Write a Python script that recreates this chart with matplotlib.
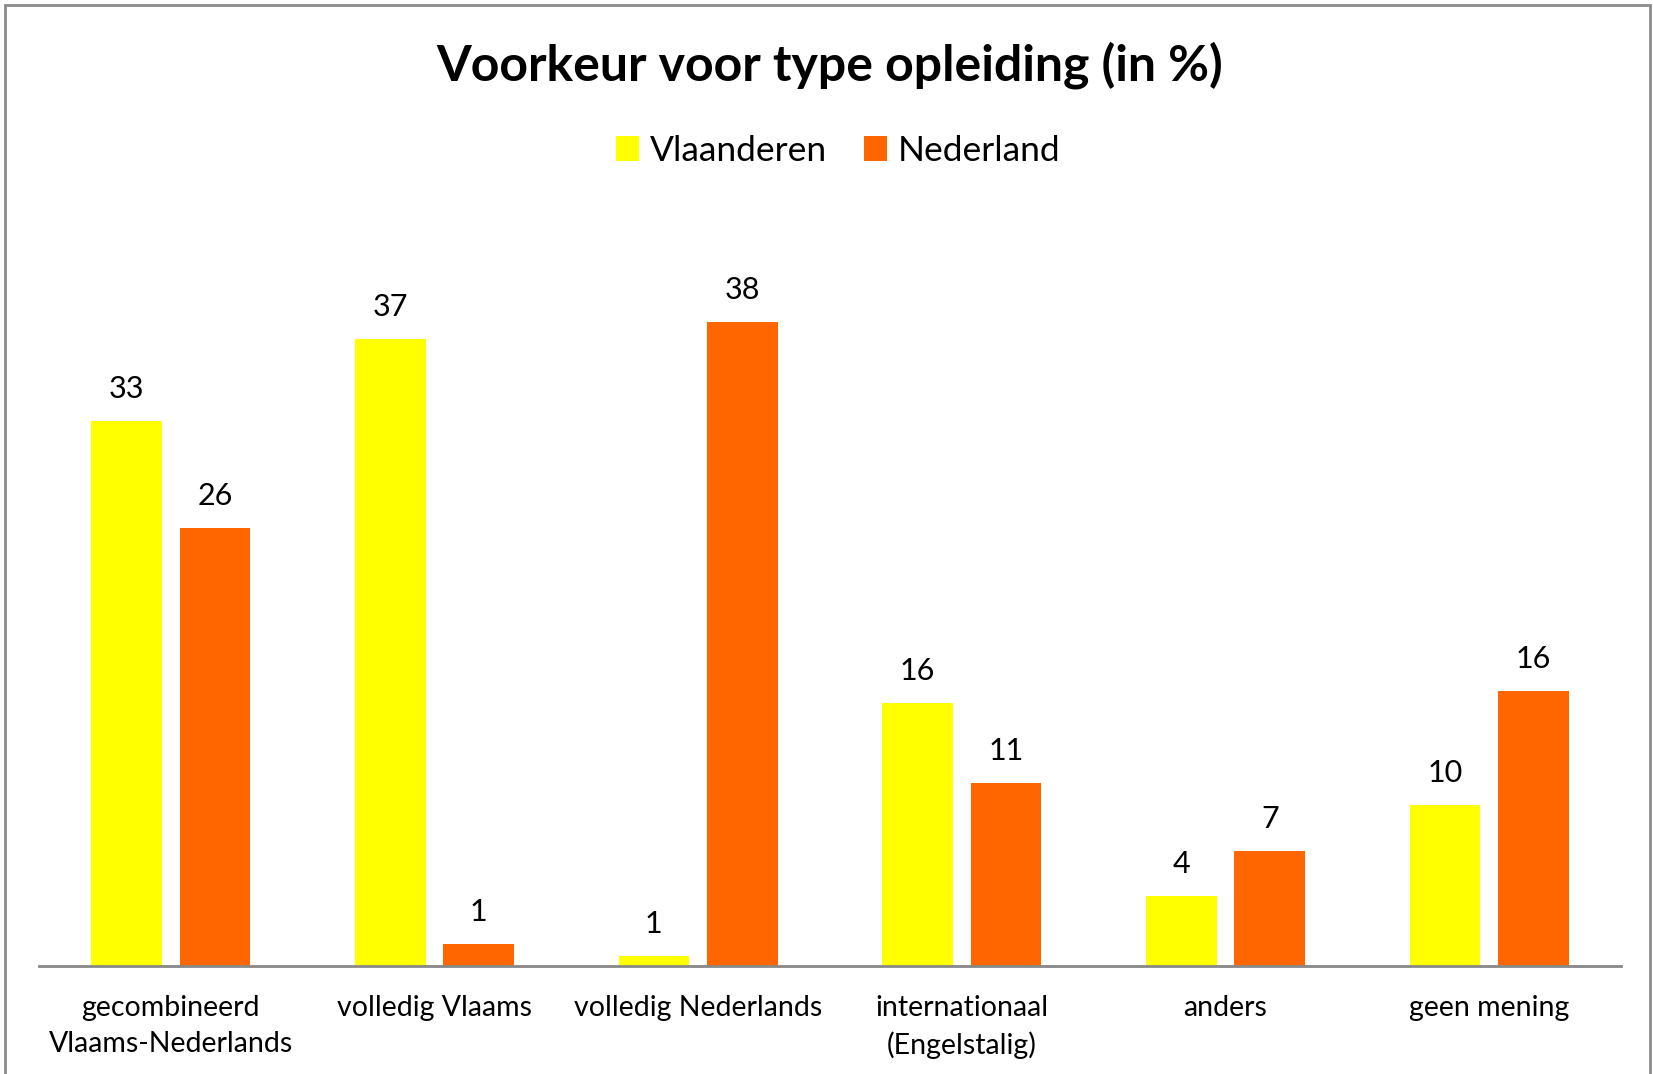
import matplotlib
matplotlib.use("Agg")
import matplotlib.pyplot as plt
import numpy as np
from matplotlib.patches import Rectangle

categories = ["gecombineerd\nVlaams-Nederlands", "volledig Vlaams", "volledig Nederlands",
              "internationaal\n(Engelstalig)", "anders", "geen mening"]
vlaanderen = [32.5, 37.4, 0.6, 15.7, 4.2, 9.6]
nederland = [26.1, 1.3, 38.4, 10.9, 6.85, 16.4]
vlaanderen_labels = ["33", "37", "1", "16", "4", "10"]
nederland_labels = ["26", "1", "38", "11", "7", "16"]

plt.rcParams['font.family'] = ['Lato', 'DejaVu Sans']

W, H = 1653, 1074
fig = plt.figure(figsize=(W / 100, H / 100), dpi=100)
fig.patch.set_facecolor("white")

# outer frame
fig.patches.append(Rectangle((5 / W, -0.01), 1645 / W, 1.0 - 5 / H + 0.01, transform=fig.transFigure,
                             fill=False, edgecolor="#8c8c8c", linewidth=2))

ax = fig.add_axes([39 / W, 108 / H, (1621 - 39) / W, 755 / H])
x = np.arange(len(categories))
w = 0.268
off = 0.168
b1 = ax.bar(x - off, vlaanderen, w, color="#FFFF00", label="Vlaanderen", zorder=3)
b2 = ax.bar(x + off, nederland, w, color="#FF6600", label="Nederland", zorder=3)

for bars, labels in [(b1, vlaanderen_labels), (b2, nederland_labels)]:
    for rect, lab in zip(bars, labels):
        ax.annotate(lab, (rect.get_x() + rect.get_width() / 2, rect.get_height()),
                    xytext=(0, 23), textcoords="offset points", ha="center", va="center",
                    fontsize=22, color="black")

ax.set_xlim(-0.5, len(categories) - 0.5)
ax.set_ylim(0, 45)
ax.set_yticks([])
ax.set_xticks(x)
ax.set_xticklabels(categories, fontsize=20.5, linespacing=1.45)
ax.tick_params(axis="x", length=0, pad=21)
for s in ["top", "right", "left"]:
    ax.spines[s].set_visible(False)
ax.spines["bottom"].set_color("#888888")
ax.spines["bottom"].set_linewidth(2)
ax.spines["bottom"].set_zorder(4)

fig.text(0.502, 1 - 65 / H, "Voorkeur voor type opleiding (in %)", ha="center", va="center",
         fontsize=36, fontweight="bold")
fig.legend(loc="center", bbox_to_anchor=(0.507, 1 - 151 / H), ncol=2, frameon=False,
           fontsize=25.5, handlelength=0.65, handleheight=0.7, handletextpad=0.3, columnspacing=1.05)

fig.savefig("out.png", dpi=100, facecolor="white")
